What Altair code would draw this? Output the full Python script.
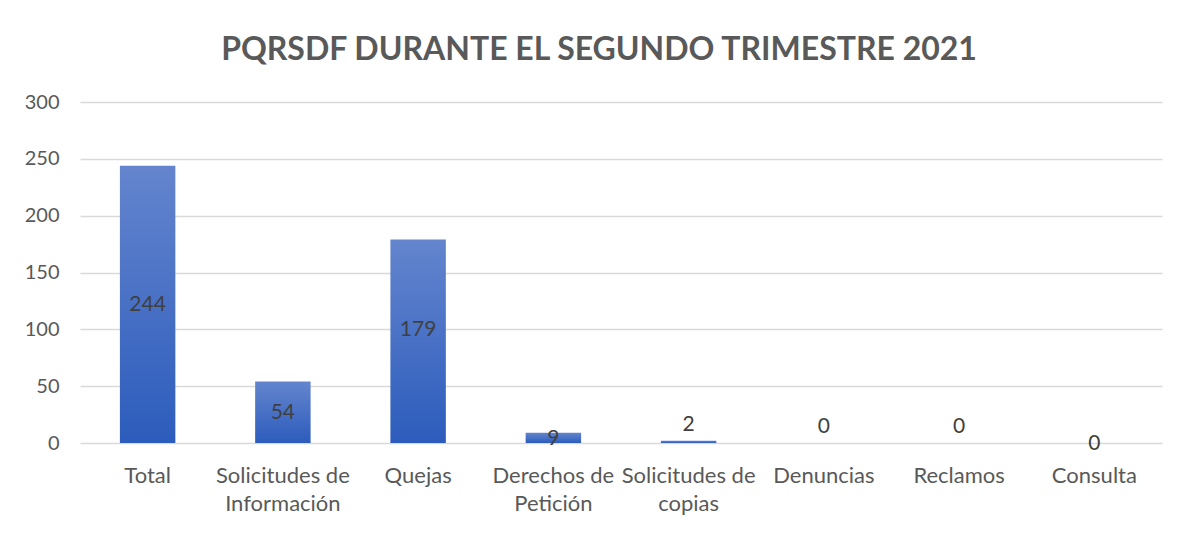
import altair as alt
import pandas as pd

categories = ["Total", "Solicitudes de Información", "Quejas", "Derechos de Petición",
              "Solicitudes de copias", "Denuncias", "Reclamos", "Consulta"]
values = [244, 54, 179, 9, 2, 0, 0, 0]
y_ticks = [0, 50, 100, 150, 200, 250, 300]
title_text = "PQRSDF DURANTE EL SEGUNDO TRIMESTRE 2021"

small_above = ["Solicitudes de copias", "Denuncias", "Reclamos"]
on_axis = ["Consulta"]
raised = ["Quejas"]
centered = [c for c in categories if c not in small_above + on_axis + raised]

df = pd.DataFrame({"cat": categories, "val": values})

FONT = "Lato"
LABEL_COLOR = "#404040"

x_enc = alt.X("cat:N", sort=categories, title=None,
              scale=alt.Scale(paddingInner=0.59, paddingOuter=0.295),
              axis=alt.Axis(labelAngle=0, labelFontSize=22, labelColor="#595959",
                            labelFont=FONT, labelLineHeight=28, labelPadding=22,
                            ticks=False, domain=False, grid=False, labelLimit=300,
                            labelExpr="indexof(datum.label, ' de ') > 0 ? [slice(datum.label, 0, indexof(datum.label, ' de ') + 3), slice(datum.label, indexof(datum.label, ' de ') + 4)] : datum.label"))
y_enc = alt.Y("val:Q", title=None,
              scale=alt.Scale(domain=[0, 300], nice=False),
              axis=alt.Axis(values=y_ticks, labelFontSize=20, labelColor="#595959",
                            labelFont=FONT, ticks=False, domain=False, labelPadding=21,
                            gridColor="#d9d9d9", gridWidth=1.5))

base = alt.Chart(df)

bars = base.mark_bar(
    color=alt.Gradient(gradient="linear",
                       stops=[alt.GradientStop(color="#6485ce", offset=0),
                              alt.GradientStop(color="#2c5cbc", offset=1)],
                       x1=0, x2=0, y1=0, y2=1)
).encode(x=x_enc, y=y_enc)


def label_layer(cats, field_expr, baseline, dy):
    return base.transform_filter(
        alt.FieldOneOfPredicate(field="cat", oneOf=cats)
    ).transform_calculate(pos=field_expr).mark_text(
        font=FONT, fontSize=21, color=LABEL_COLOR, baseline=baseline, dy=dy
    ).encode(x=alt.X("cat:N", sort=categories), y=alt.Y("pos:Q"), text="val:Q")


mid_labels = label_layer(centered, "datum.val / 2", "middle", 1)
raised_labels = label_layer(raised, "datum.val / 2", "middle", -11)
above_labels = label_layer(small_above, "datum.val", "bottom", -6)
axis_labels = label_layer(on_axis, "datum.val", "middle", 1)

chart = alt.layer(bars, mid_labels, raised_labels, above_labels, axis_labels).properties(
    width=1082, height=341,
    background="white",
    title=alt.TitleParams(title_text, font=FONT, fontSize=32, fontWeight="bold",
                          color="#595959", anchor="middle", offset=25, dx=-22),
    autosize=alt.AutoSizeParams(type="none"),
    padding={"left": 72, "top": 94, "right": 5, "bottom": 80},
).configure_view(stroke=None, strokeWidth=0)

chart.save("out.html", embed_options={"renderer": "svg", "actions": False})
